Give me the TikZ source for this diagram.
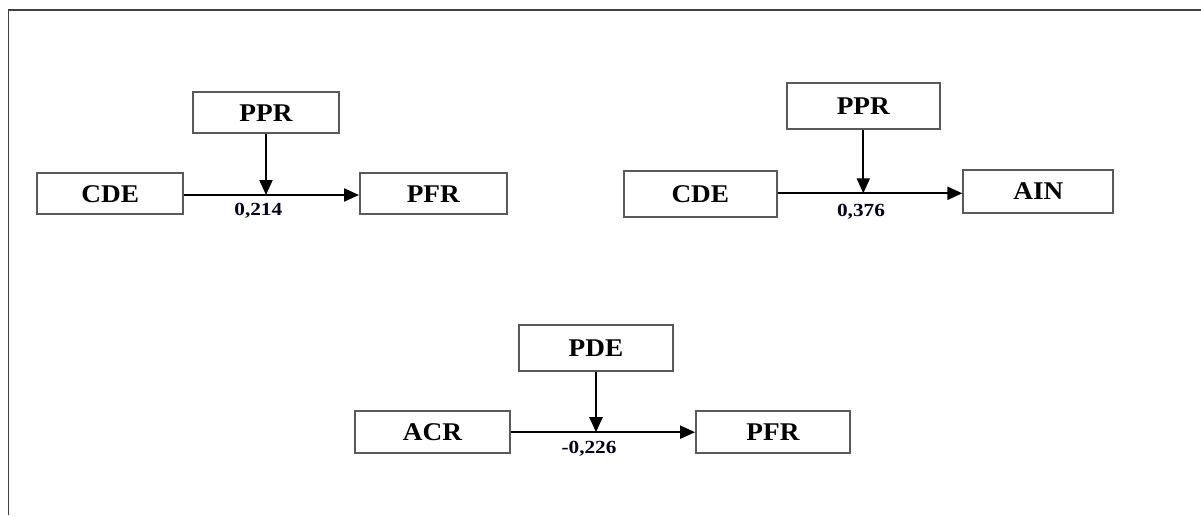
\documentclass[tikz,border=0pt]{standalone}
\usepackage{fontspec}
\setmainfont{Liberation Serif}
\usetikzlibrary{arrows.meta}

% wide bold labels
\newcommand{\boxtxt}[1]{\scalebox{1.07}[1]{\bfseries\fontsize{25.5}{30}\selectfont #1}}
\newcommand{\coef}[1]{\scalebox{1.15}[1]{\bfseries\fontsize{18.5}{22}\selectfont #1}}

\tikzset{
  varbox/.style={draw=black!65, line width=1.8pt, rectangle, inner sep=0pt,
                 minimum height=#1, fill=white},
  varbox/.default=44pt,
  frameline/.style={draw=black!75, line width=1.6pt},
  link/.style={draw=black, line width=2pt,
               -{Triangle[length=15pt,width=13pt]}},
  coeflabel/.style={inner sep=0pt, text=black!90!blue}
}

\begin{document}
\begin{tikzpicture}[x=1pt, y=-1pt]
  \useasboundingbox (0,0) rectangle (1201,515);

  % open frame around the panel
  \coordinate (fbl) at (8.5,515);
  \coordinate (ftl) at (8.5,10);
  \coordinate (ftr) at (1201,10);
  \draw[frameline] (fbl) -- (ftl) -- (ftr);

  % --- model 1: CDE -> PFR moderated by PPR
  \node[varbox=41pt, minimum width=146pt] (m1x) at (110.3,193.8) {\boxtxt{CDE}};
  \node[varbox=41pt, minimum width=146.7pt] (m1y) at (433.3,193.8) {\boxtxt{PFR}};
  \node[varbox=41pt, minimum width=146.7pt] (m1m) at (266,112.7) {\boxtxt{PPR}};
  \coordinate (m1j) at (266,195);
  \draw[link] (m1x.east |- m1j) -- (m1y.west |- m1j);
  \draw[link] (m1m.south) -- (m1j);
  \node[coeflabel] (m1c) at (258.3,210.5) {\coef{0,214}};

  % --- model 2: CDE -> AIN moderated by PPR
  \node[varbox=45.7pt, minimum width=152.7pt] (m2x) at (700.3,193.8) {\boxtxt{CDE}};
  \node[varbox=43.4pt, minimum width=150pt] (m2y) at (1038.3,191.5) {\boxtxt{AIN}};
  \node[varbox=45.7pt, minimum width=153.3pt] (m2m) at (863.3,106.2) {\boxtxt{PPR}};
  \coordinate (m2j) at (863.3,193.3);
  \draw[link] (m2x.east |- m2j) -- (m2y.west |- m2j);
  \draw[link] (m2m.south) -- (m2j);
  \node[coeflabel] (m2c) at (861,211.8) {\coef{0,376}};

  % --- model 3: ACR -> PFR moderated by PDE
  \node[varbox=42.3pt, minimum width=155pt] (m3x) at (432.5,432.2) {\boxtxt{ACR}};
  \node[varbox=42.3pt, minimum width=154pt] (m3y) at (773,432.2) {\boxtxt{PFR}};
  \node[varbox=45.7pt, minimum width=154pt] (m3m) at (596,347.8) {\boxtxt{PDE}};
  \coordinate (m3j) at (596,432.2);
  \draw[link] (m3x.east) -- (m3y.west);
  \draw[link] (m3m.south) -- (m3j);
  \node[coeflabel] (m3c) at (589,448.3) {\coef{-0,226}};
\end{tikzpicture}
\end{document}
